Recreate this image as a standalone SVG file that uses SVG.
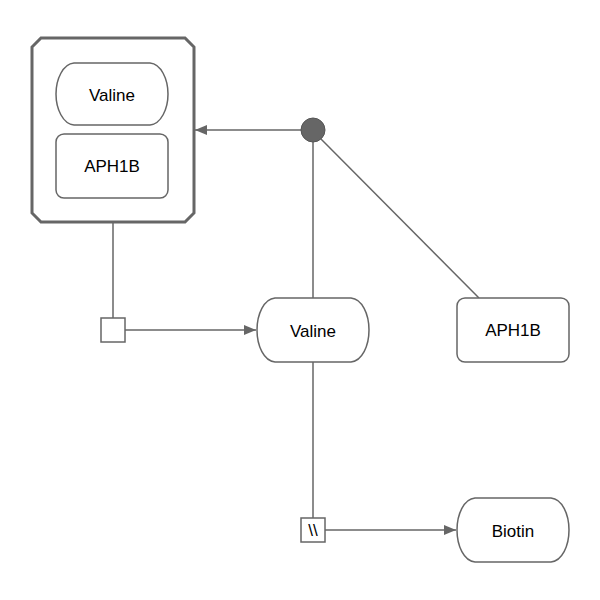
<svg xmlns="http://www.w3.org/2000/svg" width="600" height="600" viewBox="0 0 600 600">
<style>
.n{fill:#fff;stroke:#666;stroke-width:1.5}
.t{font-family:"Helvetica","Liberation Sans",Arial,sans-serif;font-size:17px;fill:#000;text-anchor:middle;dominant-baseline:central}
.e{stroke:#666;stroke-width:1.5;fill:none}
</style>
<defs>
<marker id="ar" viewBox="0 0 12 10" refX="12" refY="5" markerWidth="12" markerHeight="10" markerUnits="userSpaceOnUse" orient="auto">
<path d="M0,0L12,5L0,10Z" fill="#666"/>
</marker>
</defs>
<g id="connectors">
<line class="e" x1="301" y1="130" x2="195" y2="130" marker-end="url(#ar)"/>
<line class="e" x1="313" y1="142" x2="313" y2="298"/>
<line class="e" x1="321" y1="139" x2="479" y2="298"/>
<line class="e" x1="113" y1="222" x2="113" y2="318"/>
<line class="e" x1="125" y1="330" x2="256" y2="330" marker-end="url(#ar)"/>
<line class="e" x1="313" y1="362" x2="313" y2="518"/>
<line class="e" x1="325" y1="530" x2="456" y2="530" marker-end="url(#ar)"/>
</g>
<g id="complex">
<path d="M41,38H185L194,47V213L185,222H41L32,213V47Z" fill="#fff" stroke="#666" stroke-width="3"/>
</g>
<g id="valine_inner">
<path class="n" d="M74,63H150C161,64 168,79 168,94C168,109 161,124 150,125H74C63,124 56,109 56,94C56,79 63,64 74,63Z"/>
<text class="t" x="112" y="95">Valine</text>
</g>
<g id="aph1b_inner">
<rect class="n" x="56" y="134" width="112" height="64" rx="8"/>
<text class="t" x="112" y="166">APH1B</text>
</g>
<g id="assoc">
<circle cx="313" cy="130" r="12" fill="#666" stroke="#555" stroke-width="1"/>
</g>
<g id="valine">
<path class="n" d="M275,298H351C362,299 369,314 369,330C369,346 362,361 351,362H275C264,361 257,346 257,330C257,314 264,299 275,298Z"/>
<text class="t" x="313" y="331">Valine</text>
</g>
<g id="aph1b">
<rect class="n" x="457" y="298" width="112" height="64" rx="8"/>
<text class="t" x="513" y="330">APH1B</text>
</g>
<g id="process1">
<rect class="n" x="101" y="318" width="24" height="24"/>
</g>
<g id="process2">
<rect class="n" x="301" y="518" width="24" height="24"/>
<text x="313" y="530" style="font-family:'Liberation Sans',Arial,sans-serif;font-size:17px;text-anchor:middle;dominant-baseline:central">\\</text>
</g>
<g id="biotin">
<path class="n" d="M475,498H551C562,499 569,514 569,530C569,546 562,561 551,562H475C464,561 457,546 457,530C457,514 464,499 475,498Z"/>
<text class="t" x="513" y="531">Biotin</text>
</g>
</svg>
